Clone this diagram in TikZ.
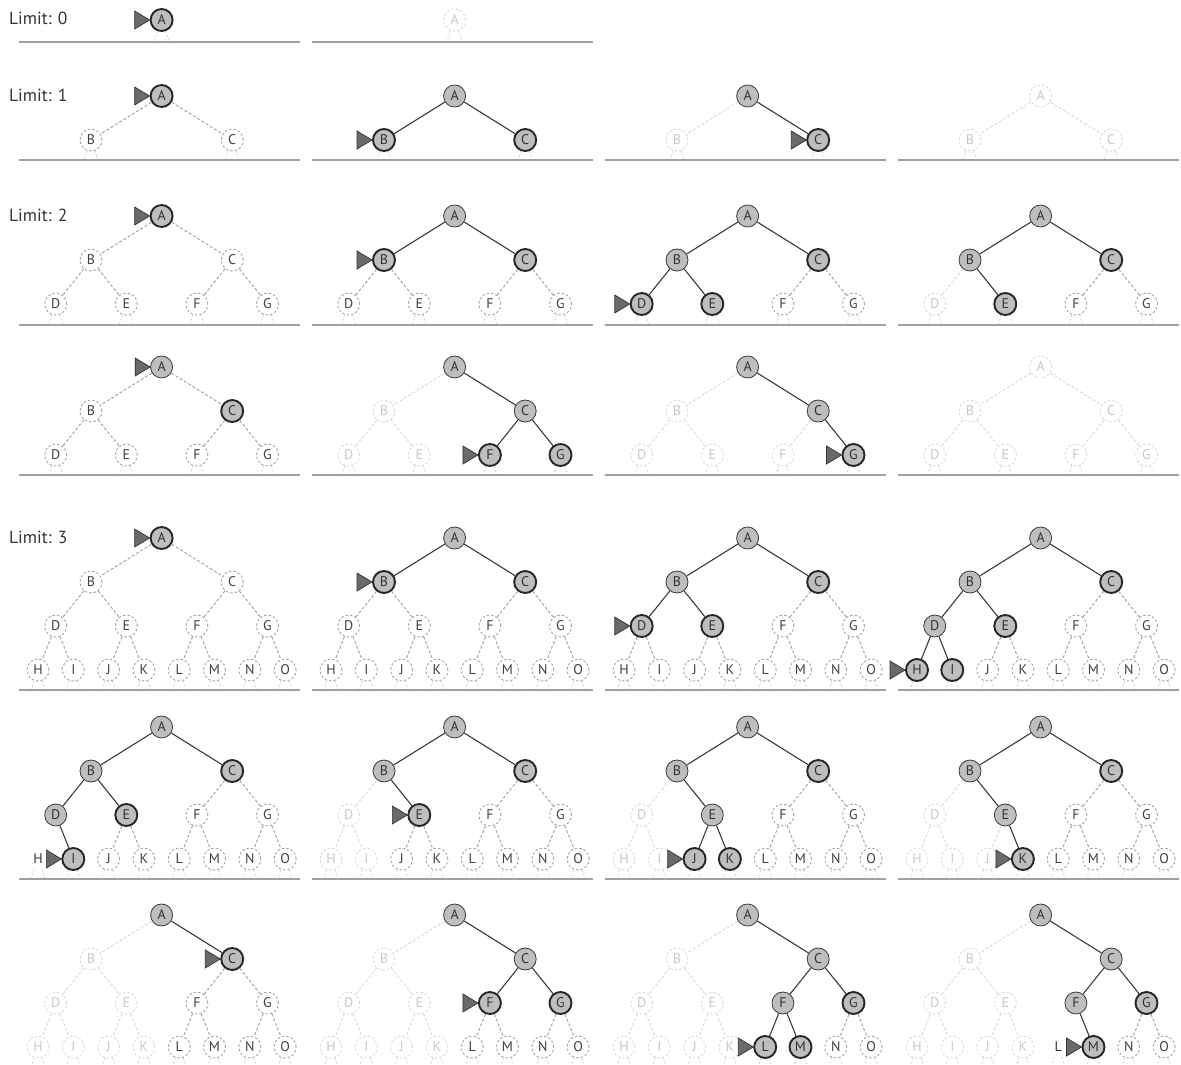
\documentclass[tikz,border=0pt]{standalone}
\usepackage{fontspec}
\setsansfont{PT Sans}
\usepackage{tikz}
\usetikzlibrary{positioning}
\definecolor{NodeFill}{HTML}{BEBEBE}
\definecolor{EdgeDark}{HTML}{3A3A3A}
\definecolor{TextDark}{HTML}{333333}
\definecolor{DashGray}{HTML}{A4A4A4}
\definecolor{TextMid}{HTML}{404040}
\definecolor{FaintGray}{HTML}{DADADA}
\definecolor{FaintText}{HTML}{C8C8C8}
\definecolor{StubGray}{HTML}{D0D0D0}
\definecolor{SepGray}{HTML}{A0A0A0}
\definecolor{MarkGray}{HTML}{6A6A6A}

\newcommand{\nodefont}{\sffamily\fontsize{14}{14}\selectfont}
\newcommand{\limitfont}{\sffamily\fontsize{17.5}{17.5}\selectfont}

% tree positions: x, y, level
\newcommand{\defpos}[4]{%
  \expandafter\def\csname tx#1\endcsname{#2}%
  \expandafter\def\csname ty#1\endcsname{#3}%
  \expandafter\def\csname tl#1\endcsname{#4}}
\defpos{A}{161.6}{0}{0}
\defpos{B}{91}{44}{1}  \defpos{C}{232.2}{44}{1}
\defpos{D}{55.7}{88}{2} \defpos{E}{126.3}{88}{2}
\defpos{F}{196.9}{88}{2} \defpos{G}{267.5}{88}{2}
\defpos{H}{38}{132}{3}  \defpos{I}{73.3}{132}{3}
\defpos{J}{108.6}{132}{3} \defpos{K}{143.9}{132}{3}
\defpos{L}{179.2}{132}{3} \defpos{M}{214.5}{132}{3}
\defpos{N}{249.8}{132}{3} \defpos{O}{285.1}{132}{3}
\expandafter\def\csname tbot0\endcsname{A}
\expandafter\def\csname tbot1\endcsname{B,C}
\expandafter\def\csname tbot2\endcsname{D,E,F,G}
\expandafter\def\csname tbot3\endcsname{H,I,J,K,L,M,N,O}

% #1 prefix, #2 x, #3 y, #4 depth limit, #5 node/state list, #6 current node
\newcommand{\searchtree}[6]{%
  \begin{scope}[shift={(#2,#3)}]
    \foreach \nd/\ns in {#5}{
      \edef\tmpnode{\noexpand\node[st\ns] (#1\nd) at (\csname tx\nd\endcsname,\csname ty\nd\endcsname) {\nd};}
      \tmpnode
      \expandafter\xdef\csname ts\nd\endcsname{\ns}
    }
    \foreach \ch/\pa in {B/A,C/A,D/B,E/B,F/C,G/C,H/D,I/D,J/E,K/E,L/F,M/F,N/G,O/G}{
      \ifnum\csname tl\ch\endcsname>#4\relax\else
        \edef\tmpedge{\noexpand\draw[ed\csname ts\ch\endcsname] (#1\pa) -- (#1\ch);}
        \tmpedge
      \fi
    }
    \edef\botlist{\csname tbot#4\endcsname}
    \foreach \nd in \botlist{
      \draw[stub] (#1\nd.250) -- ++(-3,9);
      \draw[stub] (#1\nd.290) -- ++(3,9);
    }
    \if\relax\detokenize{#6}\relax\else
      \draw[marker] (#1#6.west) -- ++(-15,-9) -- ++(0,18) -- cycle;
    \fi
  \end{scope}}

\begin{document}
\begin{tikzpicture}[
  x=1pt, y=-1pt,
  tnode/.style={circle,minimum size=22pt,inner sep=0pt,font=\nodefont},
  stx/.style={tnode,fill=NodeFill,draw=EdgeDark,line width=0.8pt,text=TextDark},
  stf/.style={tnode,fill=NodeFill,draw=black!85,line width=1.9pt,text=TextDark},
  stg/.style={stf},
  std/.style={tnode,draw=DashGray,line width=0.9pt,dash pattern=on 2.5pt off 2pt,text=TextMid},
  sth/.style={tnode,draw=FaintGray,line width=0.9pt,dash pattern=on 2.5pt off 2pt,text=FaintText},
  stb/.style={tnode,text=TextDark},
  edx/.style={draw=EdgeDark,line width=1.1pt},
  edf/.style={edx},
  edg/.style={draw=DashGray,line width=1pt,dash pattern=on 3pt off 2pt},
  edd/.style={edg},
  edh/.style={draw=FaintGray,line width=1pt,dash pattern=on 3pt off 2pt},
  edb/.style={draw=none},
  stub/.style={draw=StubGray,line width=0.8pt,dash pattern=on 2pt off 2pt},
  marker/.style={fill=MarkGray,draw=black!80,line width=0.7pt,line join=miter},
  sep/.style={draw=SepGray,line width=2.2pt},
  limit/.style={anchor=west,font=\limitfont,text=TextDark,inner sep=0pt}
]
\useasboundingbox (0,0) rectangle (1181,1065);

% Limit: 0
\node[limit] (limit0) at (9,18) {Limit: 0};
\searchtree{zA}{0}{20}{0}{A/f}{A}
\searchtree{zB}{293}{20}{0}{A/h}{}
\foreach \c in {0,1} \draw[sep] (\c*293+19,42) -- (\c*293+300,42);

% Limit: 1
\node[limit] (limit1) at (9,95) {Limit: 1};
\searchtree{oA}{0}{96}{1}{A/f,B/d,C/d}{A}
\searchtree{oB}{293}{96}{1}{A/x,B/f,C/f}{B}
\searchtree{oC}{586}{96}{1}{A/x,B/h,C/f}{C}
\searchtree{oD}{879}{96}{1}{A/h,B/h,C/h}{}
\foreach \c in {0,...,3} \draw[sep] (\c*293+19,160) -- (\c*293+300,160);

% Limit: 2
\node[limit] (limit2) at (9,215) {Limit: 2};
\searchtree{tA}{0}{216}{2}{A/f,B/d,C/d,D/d,E/d,F/d,G/d}{A}
\searchtree{tB}{293}{216}{2}{A/x,B/f,C/f,D/d,E/d,F/d,G/d}{B}
\searchtree{tC}{586}{216}{2}{A/x,B/x,C/f,D/f,E/f,F/d,G/d}{D}
\searchtree{tD}{879}{216}{2}{A/x,B/x,C/f,D/h,E/f,F/d,G/d}{}
\foreach \c in {0,...,3} \draw[sep] (\c*293+19,325) -- (\c*293+300,325);

\searchtree{uA}{0}{367}{2}{A/x,B/d,C/g,D/d,E/d,F/d,G/d}{A}
\searchtree{uB}{293}{367}{2}{A/x,B/h,C/x,D/h,E/h,F/f,G/f}{F}
\searchtree{uC}{586}{367}{2}{A/x,B/h,C/x,D/h,E/h,F/h,G/f}{G}
\searchtree{uD}{879}{367}{2}{A/h,B/h,C/h,D/h,E/h,F/h,G/h}{}
\foreach \c in {0,...,3} \draw[sep] (\c*293+19,475) -- (\c*293+300,475);

% Limit: 3
\node[limit] (limit3) at (9,537) {Limit: 3};
\searchtree{hA}{0}{538}{3}{A/f,B/d,C/d,D/d,E/d,F/d,G/d,H/d,I/d,J/d,K/d,L/d,M/d,N/d,O/d}{A}
\searchtree{hB}{293}{538}{3}{A/x,B/f,C/f,D/d,E/d,F/d,G/d,H/d,I/d,J/d,K/d,L/d,M/d,N/d,O/d}{B}
\searchtree{hC}{586}{538}{3}{A/x,B/x,C/f,D/f,E/f,F/d,G/d,H/d,I/d,J/d,K/d,L/d,M/d,N/d,O/d}{D}
\searchtree{hD}{879}{538}{3}{A/x,B/x,C/f,D/x,E/f,F/d,G/d,H/f,I/f,J/d,K/d,L/d,M/d,N/d,O/d}{H}
\foreach \c in {0,...,3} \draw[sep] (\c*293+19,690) -- (\c*293+300,690);

\searchtree{iA}{0}{727}{3}{A/x,B/x,C/f,D/x,E/f,F/d,G/d,H/b,I/f,J/d,K/d,L/d,M/d,N/d,O/d}{I}
\searchtree{iB}{293}{727}{3}{A/x,B/x,C/f,D/h,E/f,F/d,G/d,H/h,I/h,J/d,K/d,L/d,M/d,N/d,O/d}{E}
\searchtree{iC}{586}{727}{3}{A/x,B/x,C/f,D/h,E/x,F/d,G/d,H/h,I/h,J/f,K/f,L/d,M/d,N/d,O/d}{J}
\searchtree{iD}{879}{727}{3}{A/x,B/x,C/f,D/h,E/x,F/d,G/d,H/h,I/h,J/h,K/f,L/d,M/d,N/d,O/d}{K}
\foreach \c in {0,...,3} \draw[sep] (\c*293+19,879) -- (\c*293+300,879);

\searchtree{jA}{0}{915}{3}{A/x,B/h,C/f,D/h,E/h,F/d,G/d,H/h,I/h,J/h,K/h,L/d,M/d,N/d,O/d}{C}
\searchtree{jB}{293}{915}{3}{A/x,B/h,C/x,D/h,E/h,F/f,G/f,H/h,I/h,J/h,K/h,L/d,M/d,N/d,O/d}{F}
\searchtree{jC}{586}{915}{3}{A/x,B/h,C/x,D/h,E/h,F/x,G/f,H/h,I/h,J/h,K/h,L/f,M/f,N/d,O/d}{L}
\searchtree{jD}{879}{915}{3}{A/x,B/h,C/x,D/h,E/h,F/x,G/f,H/h,I/h,J/h,K/h,L/b,M/f,N/d,O/d}{M}
\end{tikzpicture}
\end{document}
